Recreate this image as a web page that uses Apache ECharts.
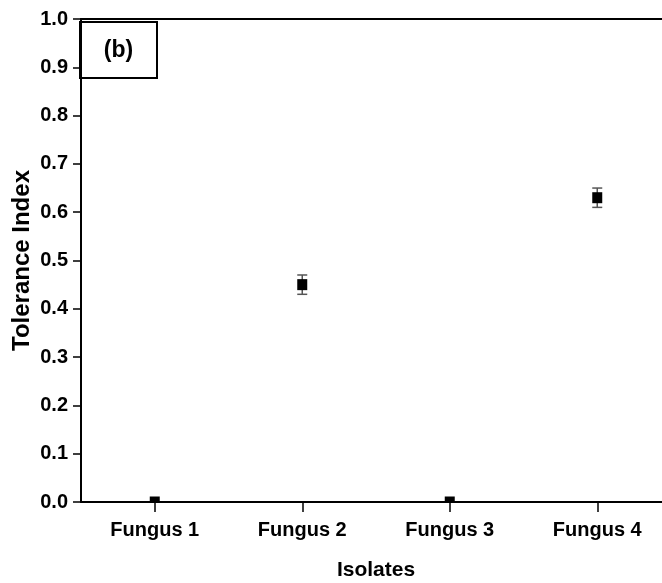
<!DOCTYPE html>
<html>
<head>
<meta charset="utf-8">
<script src="https://cdn.jsdelivr.net/npm/echarts@6/dist/echarts.min.js"></script>
<style>
html,body{margin:0;padding:0;background:#fff;}
#c{width:662px;height:583px;}
</style>
</head>
<body>
<div id="c"></div>
<script>
var categories = ['Fungus 1', 'Fungus 2', 'Fungus 3', 'Fungus 4'];
var means = [0.0, 0.45, 0.0, 0.63];
var errors = [0.0, 0.02, 0.0, 0.02];
var yTicks = [0, 1, 0.1];

var FONT = '"Liberation Sans", Arial, sans-serif';
var chart = echarts.init(document.getElementById('c'), null, {renderer: 'canvas'});

var pointData = categories.map(function (c, i) { return [i, means[i], means[i] - errors[i], means[i] + errors[i]]; });

chart.setOption({
  animation: false,
  backgroundColor: '#fff',
  grid: {left: 81, top: 19, right: -9, bottom: 81, containLabel: false, outerBoundsMode: 'none'},
  xAxis: [{
    type: 'category',
    data: categories,
    boundaryGap: true,
    name: 'Isolates',
    nameLocation: 'middle',
    nameGap: 58,
    nameTextStyle: {fontFamily: FONT, fontWeight: 'bold', fontSize: 21, color: '#000'},
    axisLine: {show: true, lineStyle: {color: '#000', width: 2}},
    axisTick: {show: true, alignWithLabel: true, length: 10, lineStyle: {color: '#000', width: 1.5}},
    axisLabel: {fontFamily: FONT, fontWeight: 'bold', fontSize: 20, color: '#000', margin: 18},
    splitLine: {show: false}
  }, {
    type: 'category',
    position: 'top',
    data: categories,
    axisLine: {show: true, lineStyle: {color: '#000', width: 2}},
    axisTick: {show: false},
    axisLabel: {show: false},
    splitLine: {show: false}
  }],
  yAxis: {
    type: 'value',
    min: yTicks[0],
    max: yTicks[1],
    interval: yTicks[2],
    name: 'Tolerance Index',
    nameLocation: 'middle',
    nameRotate: 90,
    nameGap: 47,
    nameMoveOverlap: false,
    nameTextStyle: {fontFamily: FONT, fontWeight: 'bold', fontSize: 24, color: '#000'},
    axisLine: {show: true, lineStyle: {color: '#000', width: 2}},
    axisTick: {show: true, inside: false, length: 8, lineStyle: {color: '#000', width: 1.5}},
    axisLabel: {fontFamily: FONT, fontWeight: 'bold', fontSize: 20, color: '#000', margin: 13,
      formatter: function (v) { return v.toFixed(1); }},
    splitLine: {show: false}
  },
  graphic: [{
    type: 'group',
    left: 79, top: 21,
    children: [{
      type: 'rect',
      shape: {x: 0, y: 0, width: 77, height: 56},
      style: {fill: '#fff', stroke: '#000', lineWidth: 2}
    }, {
      type: 'text',
      x: 38.5, y: 29,
      style: {text: '(b)', fontFamily: FONT, fontWeight: 'bold', fontSize: 23, fill: '#000',
        textAlign: 'center', textVerticalAlign: 'middle'}
    }]
  }],
  series: [{
    type: 'custom',
    z: 2,
    clip: true,
    renderItem: function (params, api) {
      var x = api.value(0), m = api.value(1), lo = api.value(2), hi = api.value(3);
      var c = api.coord([x, m]);
      var children = [];
      var st = {stroke: '#555', lineWidth: 1.5};
      if (hi - lo > 0) {
        var p1 = api.coord([x, hi]);
        var p2 = api.coord([x, lo]);
        var hw = 5;
        children.push(
          {type: 'line', shape: {x1: p1[0], y1: p1[1], x2: p2[0], y2: p2[1]}, style: st},
          {type: 'line', shape: {x1: p1[0] - hw, y1: p1[1], x2: p1[0] + hw, y2: p1[1]}, style: st},
          {type: 'line', shape: {x1: p2[0] - hw, y1: p2[1], x2: p2[0] + hw, y2: p2[1]}, style: st}
        );
      }
      children.push({type: 'rect', shape: {x: c[0] - 5, y: c[1] - 5.5, width: 10, height: 11},
        style: {fill: '#000'}});
      return {type: 'group', children: children};
    },
    encode: {x: 0, y: [1, 2, 3]},
    data: pointData
  }]
});
</script>
</body>
</html>
